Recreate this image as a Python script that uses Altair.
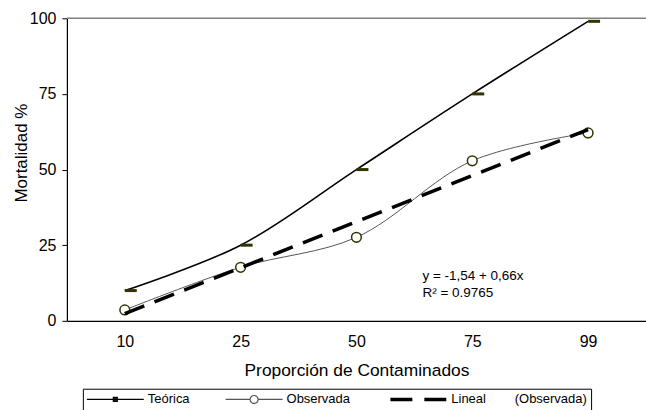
import json
import altair as alt
import pandas as pd

# ---- data ----
categorias = ["10", "25", "50", "75", "99"]
teorica = [10, 25, 50, 75, 99]
observada = [3.6, 17.7, 27.6, 52.9, 62.1]
series = ["Teórica", "Observada", "Lineal"]
ecuacion = ["y = -1,54 + 0,66x", "R² = 0.9765"]
ecuacion_x = [2.57, 2.57]
ecuacion_y = [14.85, 9.3]
y_ticks = [0, 25, 50, 75, 100]

FONT = "Liberation Sans"
NB = "\u00a0"

idx = list(range(len(categorias)))
df_t = pd.DataFrame({"i": idx, "valor": teorica, "serie": series[0]})
df_o = pd.DataFrame({"i": idx, "valor": observada, "serie": series[1]})
df_txt = pd.DataFrame({"x": ecuacion_x, "y": ecuacion_y, "t": ecuacion})
df_top = pd.DataFrame({"y": [100]})

label_expr = json.dumps(categorias) + "[datum.value]"

x_enc = alt.X(
    "i:Q",
    scale=alt.Scale(domain=[-0.5, len(categorias) - 0.5], nice=False, zero=False),
    axis=alt.Axis(
        values=idx, labelExpr=label_expr, title="Proporción de Contaminados",
        ticks=False, grid=False, domainColor="black", domainWidth=1.2,
        labelFontSize=16, titleFontSize=17.4, labelPadding=13, titlePadding=12,
        titleFontWeight="normal",
    ),
)
y_enc = alt.Y(
    "valor:Q",
    scale=alt.Scale(domain=[0, 100], nice=False),
    axis=alt.Axis(
        values=y_ticks, title="Mortalidad %", grid=False, domainColor="black",
        domainWidth=1.2, tickColor="black", tickSize=5, labelFontSize=16,
        titleFontSize=17, titleFontWeight="normal", labelPadding=6,
        titleX=-40, titleY=134.5, titleBaseline="alphabetic", titleAngle=270,
    ),
)

lineal_label = "Lineal" + NB * 8 + "(Observada)" + NB * 7
legend = alt.Legend(
    title=None, orient="none", legendX=16, legendY=371, direction="horizontal",
    strokeColor="black", fillColor="white", padding=4, labelFont=FONT,
    labelFontSize=13, symbolSize=3249, symbolOffset=22, labelOffset=26,
    columnPadding=33, labelLimit=400,
    labelExpr="datum.label === 'Lineal' ? '" + lineal_label + "' : datum.label",
)
LEGEND_SYMBOLS = {
    "symbols": {
        "update": {
            "size": {"value": 3249},
            "shape": {"signal": "datum.value === 'Teórica' ? 'M-1,0H1M-0.07,-0.07H0.07V0.07H-0.07Z' : datum.value === 'Observada' ? 'M-1,0H-0.14M0.14,0H1M0.14,0A0.14,0.14 0 1,1 -0.14,0A0.14,0.14 0 1,1 0.14,0Z' : 'M-1,0H1'"},
            "stroke": {"signal": "datum.value === 'Observada' ? '#1a1a00' : '#000000'"},
            "fill": {"signal": "datum.value === 'Teórica' ? '#333300' : datum.value === 'Observada' ? '#ffffff' : 'transparent'"},
            "strokeWidth": {"signal": "datum.value === 'Lineal' ? 3.5 : 1.2"},
            "strokeDash": {"signal": "datum.value === 'Lineal' ? [22, 12] : [1, 0]"},
            "opacity": {"value": 1},
        }
    }
}
color_enc = alt.Color(
    "serie:N",
    scale=alt.Scale(domain=series, range=["#000000", "#555555", "#000000"]),
    legend=legend,
)

top_rule = alt.Chart(df_top).mark_rule(color="#808080", strokeWidth=1.5).encode(y="y:Q")

t_line = alt.Chart(df_t).mark_line(interpolate="catmull-rom", strokeWidth=1.6).encode(
    x=x_enc, y=y_enc, color=color_enc)
t_mark = alt.Chart(df_t).mark_point(
    shape="M-1,-0.25H1V0.25H-1Z", filled=True, color="#333300", size=144,
    xOffset=6, opacity=1).encode(x="i:Q", y="valor:Q")

o_line = alt.Chart(df_o).mark_line(interpolate="catmull-rom", strokeWidth=1).encode(
    x="i:Q", y="valor:Q", color=color_enc)
o_mark = alt.Chart(df_o).mark_point(
    shape="circle", filled=True, fill="white", stroke="#333300", strokeWidth=1.5,
    size=95, opacity=1).encode(x="i:Q", y="valor:Q")

trend = alt.Chart(df_o).transform_regression("i", "valor").transform_calculate(
    serie="'Lineal'").mark_line(strokeDash=[21, 11], strokeWidth=3.5).encode(
    x="i:Q", y="valor:Q", color=color_enc)

txt = alt.Chart(df_txt).mark_text(
    align="left", baseline="middle", fontSize=13.5, font=FONT, color="black").encode(
    x="x:Q", y="y:Q", text="t:N")

chart = alt.layer(top_rule, t_line, t_mark, o_line, o_mark, trend, txt).properties(
    width=580, height=303,
    autosize=alt.AutoSizeParams(type="none"),
    padding={"left": 67, "top": 18, "right": 0, "bottom": 89},
).configure_view(stroke=None).configure_axis(
    labelFont=FONT, titleFont=FONT, labelColor="black", titleColor="black"
).configure_legend(labelColor="black")

# Legend "encode" is a (hidden) Vega-Lite property that is not in the JSON schema,
# so it is added to the generated spec.
_orig_to_dict = chart.to_dict


def _to_dict_with_legend_encode(*args, **kwargs):
    d = _orig_to_dict(*args, **kwargs)
    for lyr in d.get("layer", []):
        c = lyr.get("encoding", {}).get("color")
        if isinstance(c, dict) and isinstance(c.get("legend"), dict):
            c["legend"]["encode"] = LEGEND_SYMBOLS
    return d


object.__setattr__(chart, "to_dict", _to_dict_with_legend_encode)

chart.save("out.html", embed_options={"renderer": "svg", "actions": False})
